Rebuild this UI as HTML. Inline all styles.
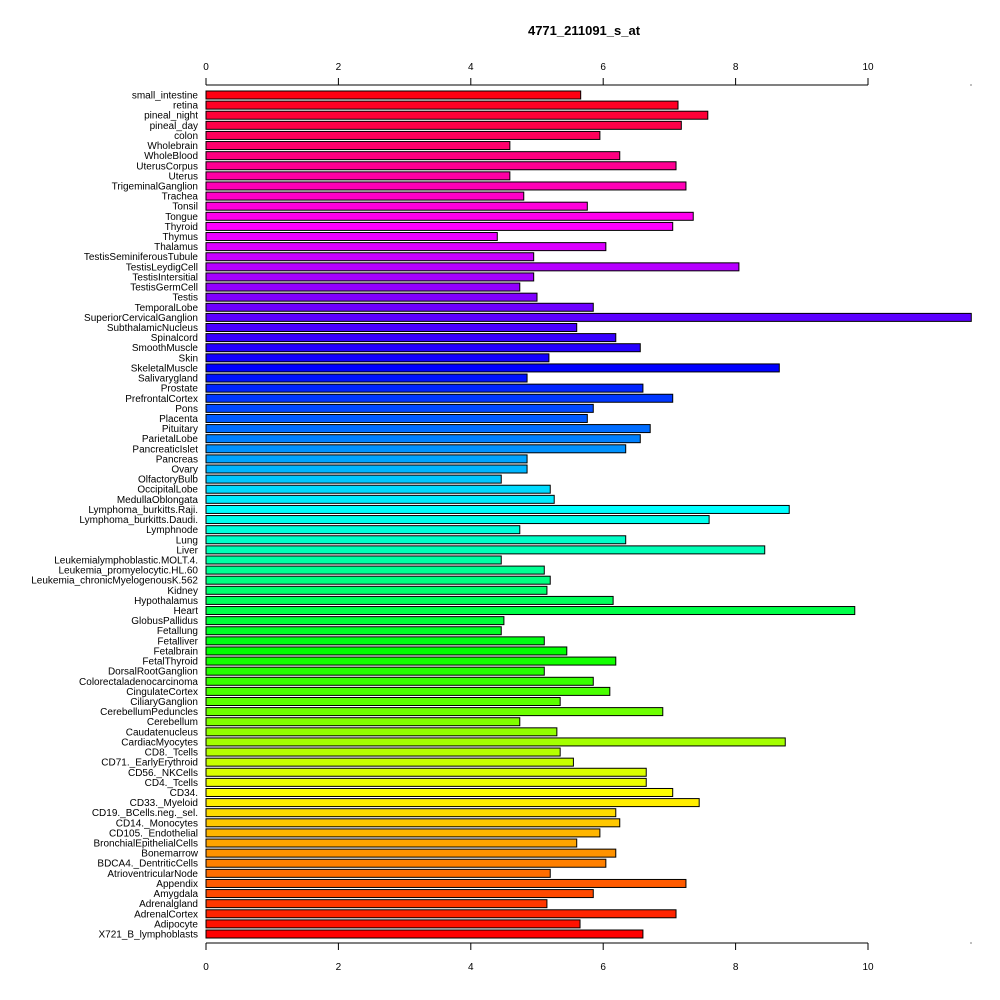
<!DOCTYPE html>
<html><head><meta charset="utf-8"><style>body{margin:0;background:#fff}svg{display:block}text{font-family:"Liberation Sans",Arial,sans-serif}</style></head>
<body>
<svg id="chart" width="1000" height="1000" viewBox="0 0 1000 1000">
<rect width="1000" height="1000" fill="#fff"/>
<text x="584" y="35" font-size="13" font-weight="bold" text-anchor="middle">4771_211091_s_at</text>
<g id="bars"></g>
<g id="labels"></g>
<g id="axes"></g>
</svg>
<script>
const categories = ["small_intestine","retina","pineal_night","pineal_day","colon","Wholebrain","WholeBlood","UterusCorpus","Uterus","TrigeminalGanglion","Trachea","Tonsil","Tongue","Thyroid","Thymus","Thalamus","TestisSeminiferousTubule","TestisLeydigCell","TestisIntersitial","TestisGermCell","Testis","TemporalLobe","SuperiorCervicalGanglion","SubthalamicNucleus","Spinalcord","SmoothMuscle","Skin","SkeletalMuscle","Salivarygland","Prostate","PrefrontalCortex","Pons","Placenta","Pituitary","ParietalLobe","PancreaticIslet","Pancreas","Ovary","OlfactoryBulb","OccipitalLobe","MedullaOblongata","Lymphoma_burkitts.Raji.","Lymphoma_burkitts.Daudi.","Lymphnode","Lung","Liver","Leukemialymphoblastic.MOLT.4.","Leukemia_promyelocytic.HL.60","Leukemia_chronicMyelogenousK.562","Kidney","Hypothalamus","Heart","GlobusPallidus","Fetallung","Fetalliver","Fetalbrain","FetalThyroid","DorsalRootGanglion","Colorectaladenocarcinoma","CingulateCortex","CiliaryGanglion","CerebellumPeduncles","Cerebellum","Caudatenucleus","CardiacMyocytes","CD8._Tcells","CD71._EarlyErythroid","CD56._NKCells","CD4._Tcells","CD34.","CD33._Myeloid","CD19._BCells.neg._sel.","CD14._Monocytes","CD105._Endothelial","BronchialEpithelialCells","Bonemarrow","BDCA4._DentriticCells","AtrioventricularNode","Appendix","Amygdala","Adrenalgland","AdrenalCortex","Adipocyte","X721_B_lymphoblasts"];
const values = [5.66,7.13,7.58,7.18,5.95,4.59,6.25,7.10,4.59,7.25,4.80,5.76,7.36,7.05,4.40,6.04,4.95,8.05,4.95,4.74,5.00,5.85,11.56,5.60,6.19,6.56,5.18,8.66,4.85,6.60,7.05,5.85,5.76,6.71,6.56,6.34,4.85,4.85,4.46,5.20,5.26,8.81,7.60,4.74,6.34,8.44,4.46,5.11,5.20,5.15,6.15,9.80,4.50,4.46,5.11,5.45,6.19,5.11,5.85,6.10,5.35,6.90,4.74,5.30,8.75,5.35,5.55,6.65,6.65,7.05,7.45,6.19,6.25,5.95,5.60,6.19,6.04,5.20,7.25,5.85,5.15,7.10,5.65,6.60];
const tickValues = [0,2,4,6,8,10];
const tickLabels = ["0","2","4","6","8","10"];

const NS = "http://www.w3.org/2000/svg";
const x = v => 206 + v * 66.2;
const yc = i => 95 + i * (839 / 83);
function mk(tag, attrs, parent) { const e = document.createElementNS(NS, tag); for (const k in attrs) e.setAttribute(k, attrs[k]); parent.appendChild(e); return e; }
const bars = document.getElementById('bars'), labels = document.getElementById('labels'), axes = document.getElementById('axes');
const n = categories.length;
categories.forEach((c, i) => {
  const hue = (n - 1 - i) / n * 360;
  const r = mk('rect', {x: x(0), y: yc(i) - 4, width: x(values[i]) - x(0), height: 8, fill: `hsl(${hue},100%,50%)`, stroke: '#000', 'stroke-width': 1}, bars);
  
  
  const t = mk('text', {x: 198, y: yc(i) + 3.5, 'font-size': 10, 'text-anchor': 'end'}, labels);
  t.textContent = c;
  
  
});
[[85, -7, 70, 'top'], [943, 7, 970, 'bottom']].forEach(([ay, d, ly, nm]) => {
  const l = mk('line', {x1: x(0), x2: x(10), y1: ay, y2: ay, stroke: '#000'}, axes);
  
  
  const dot = mk('rect', {x: 970.5, y: ay - 0.5, width: 1, height: 1, fill: '#000'}, axes);
  
  
  tickValues.forEach((v, k) => {
    const tk = mk('line', {x1: x(v), x2: x(v), y1: ay, y2: ay + d, stroke: '#000'}, axes);
    
    
    const tl = mk('text', {x: x(v), y: ly, 'font-size': 10, 'text-anchor': 'middle'}, axes);
    tl.textContent = tickLabels[k];
    
    
  });
});
</script>
</body></html>
